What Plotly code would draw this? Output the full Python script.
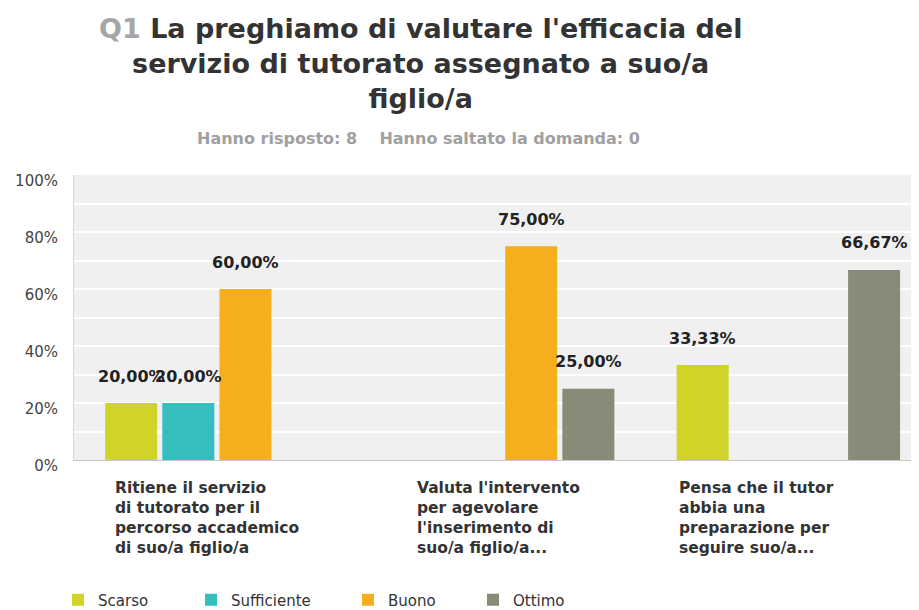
import plotly.graph_objects as go

categories = [
    "Ritiene il servizio<br>di tutorato per il<br>percorso accademico<br>di suo/a figlio/a",
    "Valuta l'intervento<br>per agevolare<br>l'inserimento di<br>suo/a figlio/a...",
    "Pensa che il tutor<br>abbia una<br>preparazione per<br>seguire suo/a...",
]
series_names = ["Scarso", "Sufficiente", "Buono", "Ottimo"]
scarso = [20.00, 0, 33.33]
sufficiente = [20.00, 0, 0]
buono = [60.00, 75.00, 0]
ottimo = [0, 25.00, 66.67]
series_values = [scarso, sufficiente, buono, ottimo]
colors = ["#d0d428", "#34bec0", "#f5af1e", "#8a8a78"]
legend_widths = [88, 112, 80, 60]
label_xshift = [-104, -88, -111]
y_ticks = [0, 20, 40, 60, 80, 100]
y_ticktext = ["0%", "20%", "40%", "60%", "80%", "100%"]

title_text = ("<span style='color:#a6a6a6'>Q1</span> La preghiamo di valutare l'efficacia del<br>"
              "servizio di tutorato assegnato a suo/a<br>figlio/a")
subtitle = "Hanno risposto: 8\u00a0\u00a0\u00a0\u00a0Hanno saltato la domanda: 0"

# page body adds an 8px offset, so the figure is drawn 8px smaller
OFF = 8
W, H = 919 - OFF, 610 - OFF
ML, MR, MT = 74 - OFF, 0, 175 - OFF
plot_h = 285
MB = H - MT - plot_h
plot_w = W - ML - MR
cat_px = 285.75
BARGAP = 0.2

x_idx = list(range(len(categories)))
n_series = len(series_names)

def fmt(v):
    return ("%.2f" % v).replace(".", ",") + "%"

fig = go.Figure()
for name, vals, col, lw in zip(series_names, series_values, colors, legend_widths):
    fig.add_trace(go.Bar(
        name=name, x=x_idx, y=vals, marker=dict(color=col, line=dict(width=0)),
        hoverinfo="skip", legendwidth=lw,
    ))

# value labels above each non-zero bar, placed on the grouped-bar slots
slot = (1 - BARGAP) / n_series
for j, vals in enumerate(series_values):
    for i, v in enumerate(vals):
        if v:
            fig.add_annotation(x=i + (j - (n_series - 1) / 2) * slot, xref="x", y=v, yref="y",
                               yshift=27, yanchor="middle", xanchor="center", showarrow=False,
                               text=fmt(v),
                               font=dict(family="DejaVu Sans", size=16, color="#222222", weight="bold"))

for i, c in enumerate(categories):
    fig.add_annotation(x=i, xref="x", y=0, yref="paper", yshift=-17, xshift=label_xshift[i],
                       yanchor="top", xanchor="left", align="left", showarrow=False,
                       text=c, font=dict(family="DejaVu Sans", size=15.5, color="#333333", weight="bold"))

fig.add_annotation(x=(420 - OFF - ML) / plot_w, xref="paper", y=1 + (MT - 3) / plot_h, yref="paper",
                   yanchor="top", xanchor="center", align="center", showarrow=False, text=title_text,
                   font=dict(family="DejaVu Sans", size=27, color="#333333", weight="bold"))

fig.add_annotation(x=(418 - OFF - ML) / plot_w, xref="paper", y=1 + 37 / plot_h, yref="paper",
                   yanchor="middle", xanchor="center", showarrow=False, text=subtitle,
                   font=dict(family="DejaVu Sans", size=16, color="#a0a0a0", weight="bold"))

fig.update_layout(
    width=W, height=H,
    margin=dict(l=ML, r=MR, t=MT, b=MB, pad=0, autoexpand=False),
    paper_bgcolor="white", plot_bgcolor="#f0f0f0",
    separators=",.",
    barmode="group", bargap=BARGAP, bargroupgap=0.09,
    showlegend=True,
    legend=dict(orientation="h", x=(58 - OFF - ML) / plot_w, xanchor="left",
                y=-140 / plot_h, yanchor="middle",
                font=dict(family="DejaVu Sans", size=15, color="#333333"),
                traceorder="normal"),
    xaxis=dict(range=[-0.5, -0.5 + plot_w / cat_px], tickvals=x_idx, ticktext=["", "", ""],
               showgrid=False, showline=True, linecolor="#c8c8c8", linewidth=1,
               zeroline=False, fixedrange=True),
    yaxis=dict(range=[0, 100], tickvals=y_ticks, ticktext=y_ticktext,
               showgrid=True, gridcolor="white", gridwidth=2,
               minor=dict(dtick=10, tick0=0, showgrid=True, gridcolor="white", gridwidth=2),
               showline=True, linecolor="#d8d8d8", linewidth=1, zeroline=False,
               ticks="", ticklabelstandoff=12, ticklabelshift=6,
               tickfont=dict(family="DejaVu Sans", size=15, color="#444444")),
)

fig.write_html("out.html")
